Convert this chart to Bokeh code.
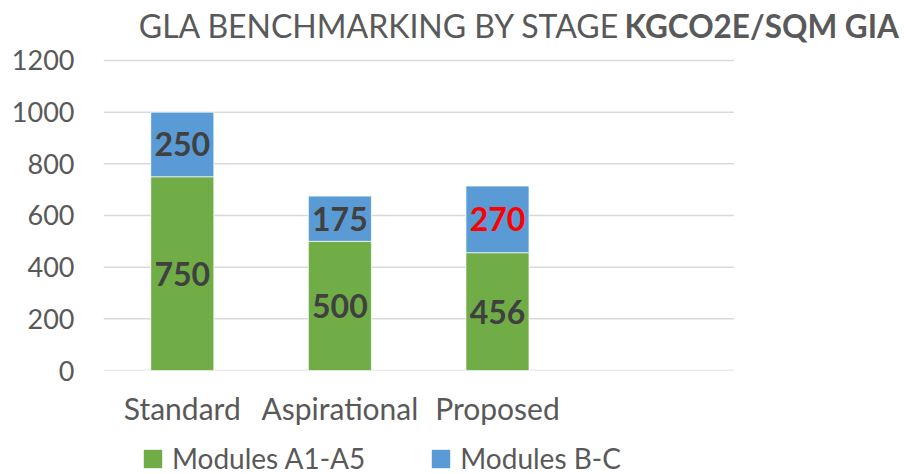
from bokeh.plotting import figure
from bokeh.layouts import column
from bokeh.models import (ColumnDataSource, FixedTicker, Label, Legend, LegendItem)
from bokeh.core.properties import value
from bokeh.embed import file_html
from bokeh.resources import INLINE

# ---- data ----
stages = ["Standard", "Aspirational", "Proposed"]
modules_a1_a5 = [750, 500, 456]
modules_b_c = [250, 175, 258]
labels_a1_a5 = ["750", "500", "456"]
labels_b_c = ["250", "175", "270"]
y_ticks = [0, 200, 400, 600, 800, 1000, 1200]
title_normal = "GLA BENCHMARKING BY STAGE"
title_bold = "KGCO2E/SQM GIA"
series_names = ["Modules A1-A5", "Modules B-C"]
n_slots = 4  # category slots on the axis (last one empty)

FONT = "Lato"
GREEN = "#70AD47"
BLUE = "#5B9BD5"
TXT = "#595959"
LBL = "#404040"

xs = list(range(len(stages)))
tops_b = [a + b for a, b in zip(modules_a1_a5, modules_b_c)]
mid_a = [a / 2 for a in modules_a1_a5]
mid_b = [a + b / 2 for a, b in zip(modules_a1_a5, modules_b_c)]
color_b = [("#FF0000" if s == "Proposed" else LBL) for s in stages]

src = ColumnDataSource(dict(x=xs, a=modules_a1_a5, zero=[0] * len(stages),
                            bb=modules_a1_a5, bt=tops_b, ma=mid_a, mb=mid_b,
                            la=labels_a1_a5, lb=labels_b_c, cb=color_b))
grid_src = ColumnDataSource(dict(y=y_ticks, x0=[-0.5] * len(y_ticks),
                                 x1=[n_slots - 0.5] * len(y_ticks)))

# ---------------- main chart ----------------
p = figure(x_range=(-0.5, 4.57), y_range=(0, 1424.5), width=904, height=430,
           output_backend="svg", toolbar_location=None,
           min_border_left=103, min_border_right=2, min_border_top=2, min_border_bottom=60)
p.outline_line_color = None
p.background_fill_color = "white"
p.border_fill_color = "white"
p.xgrid.grid_line_color = None
p.ygrid.grid_line_color = None

p.segment(x0="x0", x1="x1", y0="y", y1="y", source=grid_src,
          line_color="#D9D9D9", line_width=1.5)

bar_kw = dict(width=0.4, source=src, line_color="white", line_width=1, line_alpha=0.7)
ra = p.vbar(x="x", bottom="zero", top="a", fill_color=GREEN, **bar_kw)
rb = p.vbar(x="x", bottom="bb", top="bt", fill_color=BLUE, **bar_kw)

p.text(x="x", y="ma", text="la", source=src, text_align="center", text_baseline="middle",
       text_font=value(FONT), text_font_style="bold", text_font_size="32px", text_color=LBL)
p.text(x="x", y="mb", text="lb", source=src, text_align="center", text_baseline="middle",
       text_font=value(FONT), text_font_style="bold", text_font_size="32px", text_color="cb")

p.yaxis.ticker = FixedTicker(ticks=y_ticks)
p.xaxis.ticker = FixedTicker(ticks=xs)
p.xaxis.major_label_overrides = {i: s for i, s in zip(xs, stages)}
for ax in (p.xaxis[0], p.yaxis[0]):
    ax.axis_line_color = None
    ax.major_tick_line_color = None
    ax.minor_tick_line_color = None
    ax.major_tick_in = 0
    ax.major_tick_out = 0
    ax.major_label_text_font = FONT
    ax.major_label_text_color = TXT
p.yaxis.major_label_text_font_size = "27px"
p.yaxis.major_label_standoff = 29
p.xaxis.major_label_text_font_size = "30px"
p.xaxis.major_label_standoff = 19

p.add_layout(Label(x=517, y=345, x_units="screen", y_units="screen", text=title_normal,
                   text_align="right", text_baseline="alphabetic", text_font=FONT,
                   text_font_size="32px", text_color=TXT))
p.add_layout(Label(x=521, y=345, x_units="screen", y_units="screen", text=title_bold,
                   text_align="left", text_baseline="alphabetic", text_font=FONT,
                   text_font_style="bold", text_font_size="31.5px", text_color=TXT))

# ---------------- legend strip (keys drawn from the same data, kept out of view) ----------------
q = figure(x_range=(-20, -19), y_range=(2000, 2001), width=904, height=44,
           output_backend="svg", toolbar_location=None,
           x_axis_location=None, y_axis_location=None,
           min_border_left=0, min_border_right=0, min_border_top=0, min_border_bottom=0)
q.outline_line_color = None
q.xgrid.grid_line_color = None
q.ygrid.grid_line_color = None
ka = q.vbar(x="x", bottom="zero", top="a", width=0.4, source=src, fill_color=GREEN, line_color=None)
kb = q.vbar(x="x", bottom="bb", top="bt", width=0.4, source=src, fill_color=BLUE, line_color=None)
lg = Legend(items=[LegendItem(label=series_names[0], renderers=[ka]),
                   LegendItem(label=series_names[1], renderers=[kb])],
            location=(38, -1), orientation="horizontal", padding=0, margin=0, spacing=64,
            glyph_width=23, glyph_height=23, label_height=18, label_standoff=8,
            label_text_font=FONT, label_text_font_size="28px", label_text_color=TXT,
            background_fill_alpha=0, border_line_alpha=0)
q.add_layout(lg, "center")

open("out.html", "w").write(file_html(column(p, q, spacing=0), INLINE))
